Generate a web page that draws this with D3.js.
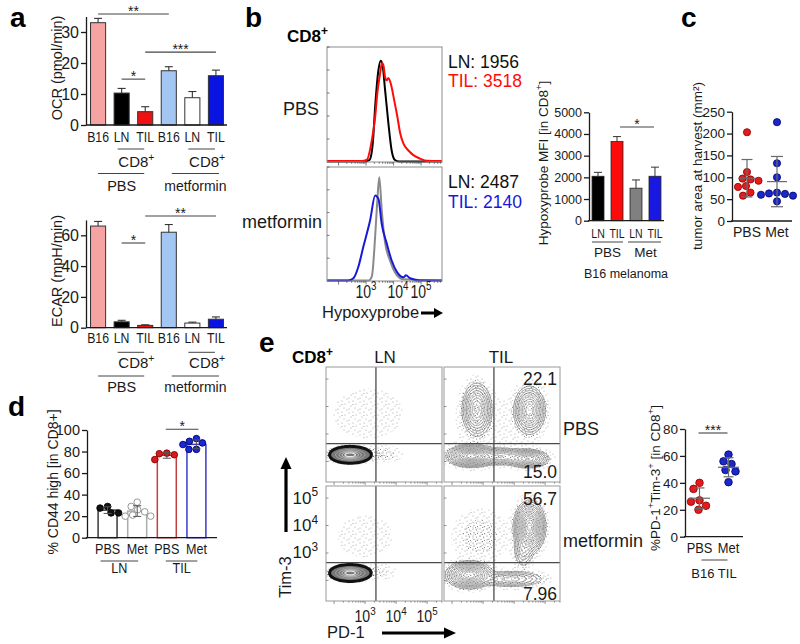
<!DOCTYPE html>
<html><head><meta charset="utf-8">
<script src="https://cdn.jsdelivr.net/npm/d3@7"></script>
<style>body{margin:0;background:#fff}svg{display:block}</style>
</head><body>
<script>
// ================= DATA =================
// panel a
const aCategories = ["B16","LN","TIL","B16","LN","TIL"];
const ocrMean = [33.0, 10.3, 4.3, 17.5, 8.8, 15.9];
const ocrSem  = [1.4, 1.5, 1.6, 1.3, 2.0, 1.8];
const ocrTicks = [0,10,20,30];
const ocrSig = [{a:0,b:3,label:"**",v:35.8},{a:2,b:5,label:"***",v:23.5},{a:1,b:2,label:"*",v:14.8}];
const ecarMean = [66, 3.8, 1.5, 62, 3.0, 5.5];
const ecarSem  = [3.0, 1.0, 0.4, 5.0, 0.6, 1.5];
const ecarTicks = [0,20,40,60];
const ecarSig = [{a:1,b:2,label:"*",v:55},{a:2,b:5,label:"**",v:72.5}];

// panel b histograms: [log10 intensity, % of max]
const histPBS_LN  = [[1.58,0.4],[2.96,0.4],[3.13,2],[3.25,18],[3.33,48],[3.45,80],[3.53,88],[3.60,84],[3.69,63],[3.81,34],[3.93,10],[4.05,1.7],[4.2,0.4],[5.76,0.4]];
const histPBS_TIL = [[1.58,0.8],[2.85,0.8],[3.03,2],[3.21,19],[3.33,39],[3.41,60],[3.51,77],[3.58,86],[3.63,84],[3.69,74],[3.75,71],[3.81,73],[3.90,68],[4.02,54],[4.14,39],[4.24,25],[4.36,16],[4.54,10],[4.72,6],[4.96,3],[5.21,1],[5.76,0.8]];
const histMet_LN  = [[1.58,0.5],[3.1,0.5],[3.21,4],[3.33,39],[3.41,71],[3.48,91],[3.57,62],[3.69,34],[3.87,18],[4.12,5],[4.36,1.5],[5.76,0.5]];
const histMet_TIL = [[1.58,0.5],[2.35,0.5],[2.54,2.4],[2.72,12.5],[2.90,30],[3.15,53.5],[3.33,75],[3.45,72],[3.57,50],[3.75,33],[3.93,18],[4.12,8],[4.36,3.2],[4.45,5],[4.60,2.4],[4.96,0.5],[5.76,0.5]];
const mfiLabels = [["LN: 1956","TIL: 3518"],["LN: 2487","TIL: 2140"]];
const histTicks = [3,4,5];

// panel b bars
const hypoxCategories = ["LN","TIL","LN","TIL"];
const hypoxMean = [2050, 3650, 1500, 2050];
const hypoxSem  = [180, 230, 380, 420];
const hypoxTicks = [0,1000,2000,3000,4000,5000];

// panel c
const tumorGroups = ["PBS","Met"];
const tumorPBS = [203,112,97,95,92,80,78,65,58];
const tumorMet = [226,132,100,65,63,62,60,58,45];
const tumorTicks = [0,50,100,150,200,250];

// panel d
const cd44Groups = ["PBS","Met","PBS","Met"];
const cd44Values = [[27.5,29,23,23],[33,29,26,24,21,20,20],[78.5,78,77,72.5],[92,89.5,88,86.5,82,82]];
const cd44Ticks = [0,20,40,60,80,100];

// panel e flow populations (log10 PD-1, log10 Tim-3, spread, amplitude)
const flowGate = {x:3.35, y:2.65};
const flowLN_PBS  = [{x:2.52,y:2.24,sx:0.27,sy:0.11,a:1},{x:3.55,y:2.25,sx:0.35,sy:0.16,a:0.02},{x:3.1,y:3.75,sx:0.8,sy:0.65,a:0.008}];
const flowLN_Met  = [{x:2.52,y:2.27,sx:0.27,sy:0.11,a:1},{x:3.5,y:2.3,sx:0.3,sy:0.16,a:0.012},{x:3.0,y:3.6,sx:0.75,sy:0.65,a:0.006}];
const flowTIL_PBS = [{x:2.6,y:2.2,sx:0.3,sy:0.16,a:1},{x:3.5,y:2.18,sx:0.45,sy:0.14,a:0.3},{x:4.45,y:2.1,sx:0.28,sy:0.14,a:0.55},{x:2.8,y:3.9,sx:0.2,sy:0.4,a:0.5},{x:4.5,y:3.87,sx:0.21,sy:0.36,a:0.55},{x:3.4,y:3.2,sx:0.9,sy:0.8,a:0.008}];
const flowTIL_Met = [{x:2.55,y:2.2,sx:0.3,sy:0.2,a:0.8},{x:3.9,y:2.05,sx:0.5,sy:0.14,a:0.2},{x:4.5,y:3.95,sx:0.2,sy:0.37,a:1},{x:4.3,y:3.1,sx:0.15,sy:0.3,a:0.15},{x:2.9,y:3.6,sx:0.45,sy:0.5,a:0.03}];
const quadLabels = ["22.1","15.0","56.7","7.96"];
const flowTicks = [3,4,5];

// panel e dot plot
const pdGroups = ["PBS","Met"];
const pdPBS = [40,35.5,27,26,23,20];
const pdMet = [61,56,54,49.5,48.5,40.5];
const pdTicks = [0,20,40,60,80];

// ================= DRAWING =================
const FONT = "'Liberation Sans', Arial, Helvetica, sans-serif";
const INK = "#1a1a1a";
const svg = d3.select("body").append("svg").attr("width",800).attr("height",644).attr("font-family",FONT);
const defs = svg.append("defs");
function pattern(id, size, dots, r, col) {
  const p = defs.append("pattern").attr("id",id).attr("width",size).attr("height",size).attr("patternUnits","userSpaceOnUse");
  dots.forEach(d => p.append("circle").attr("cx",d[0]).attr("cy",d[1]).attr("r",r).attr("fill",col));
}
pattern("speck", 11, [[1,2],[5,1],[8,4],[3,6],[7,8],[10,10],[1,9],[5,4.5]], 0.55, "#9a9a9a");
pattern("speckMid", 7, [[1,1],[4.5,2],[2,4.5],[5.5,5.5],[3.5,6.5]], 0.55, "#7a7a7a");
pattern("speckDark", 6, [[1,1],[4,2],[2,4.5],[5,5]], 0.6, "#222");

function T(x, y, s, o = {}) {
  const size = o.size || 14, sx = o.sx || 1;
  const t = (o.parent || svg).append("text")
    .attr("transform", `translate(${x},${y})` + (o.rotate ? ` rotate(${o.rotate})` : "") + (sx !== 1 ? ` scale(${sx},1)` : ""))
    .attr("font-size", size).attr("text-anchor", o.anchor || "start")
    .attr("fill", o.fill || INK);
  if (o.bold) t.attr("font-weight","bold");
  const parts = s.split(/(\^\{[^}]*\})/).filter(p => p.length);
  const shift = size * 0.42; let raised = false;
  parts.forEach(p => {
    const m = p.match(/^\^\{([^}]*)\}$/);
    const ts = t.append("tspan");
    if (m) { ts.attr("font-size", size*0.7).attr("dy", -shift).text(m[1]); raised = true; }
    else { if (raised) { ts.attr("dy", shift); raised = false; } ts.text(p); }
  });
  return t;
}
function L(x1,y1,x2,y2,o={}) {
  return (o.parent||svg).append("line").attr("x1",x1).attr("y1",y1).attr("x2",x2).attr("y2",y2)
    .attr("stroke",o.stroke||INK).attr("stroke-width",o.sw||1.2);
}
function yAxis(scale, x, ticks, size, sx=1) {
  const ax = svg.append("g").attr("transform",`translate(${x},0)`)
    .call(d3.axisLeft(scale).tickValues(ticks).tickFormat(d3.format("d")).tickSize(5).tickSizeOuter(0).tickPadding(2));
  ax.attr("font-family",FONT);
  ax.selectAll("text").attr("font-size",size).attr("fill",INK).attr("transform",`scale(${sx},1)`);
  ax.select(".domain").attr("stroke",INK).attr("stroke-width",1.3);
  ax.selectAll(".tick line").attr("stroke",INK).attr("stroke-width",1.3);
  return ax;
}
function xLine(scale, y) {
  const r = scale.range();
  L(r[0]-1, y, r[1], y, {sw:1.3});
}
function sigBar(x1,x2,y,label,size=14) {
  L(x1,y,x2,y,{sw:1.1,stroke:"#444"});
  T((x1+x2)/2, y+2, label, {size, anchor:"middle"});
}
function swarm(vals, y, cx, r) {
  const pts = vals.map(v => ({v, y:y(v)})).sort((a,b)=>b.v-a.v);
  const placed = [], minD = 2*r + 0.6;
  pts.forEach(p => {
    let best = 0;
    for (let k=0;k<400;k++){
      const off = k===0 ? 0 : (k%2 ? -1 : 1) * Math.ceil(k/2) * 0.5;
      if (placed.every(q => Math.hypot(q.x-(cx+off), q.y-p.y) >= minD)) { best = off; break; }
    }
    p.x = cx + best; placed.push(p);
  });
  return placed;
}

// ---------- panel labels ----------
[["a",10,27],["b",245,27],["c",681,27],["d",8,416],["e",259,352]].forEach(d =>
  T(d[1], d[2], d[0], {size:28, bold:true, fill:"#000"}));

// ---------- panel a ----------
const aFill = ["#f6a3a3","#000000","#ee1111","#a3c6f3","#ffffff","#0a14e0"];
const xA = d3.scaleBand().domain(d3.range(6)).range([87,227]).paddingInner(0.36).paddingOuter(0.15);
const cA = i => xA(i) + xA.bandwidth()/2;
function panelA(means, sems, yScale, ticks, sig, title, cfg) {
  yAxis(yScale, 86, ticks, 16);
  means.forEach((m,i) => {
    svg.append("rect").attr("x",xA(i)).attr("width",xA.bandwidth())
      .attr("y",yScale(m)).attr("height",yScale(0)-yScale(m))
      .attr("fill",aFill[i]).attr("stroke","#333").attr("stroke-width",1);
    const yt = yScale(m+sems[i]);
    L(cA(i), yScale(m), cA(i), yt, {sw:1.1, stroke:"#333"});
    L(cA(i)-4, yt, cA(i)+4, yt, {sw:1.1, stroke:"#333"});
  });
  xLine(xA, yScale(0));
  aCategories.forEach((c,i) => T(cA(i), cfg.tickY, c, {size:15, anchor:"middle", sx:0.82}));
  sig.forEach(s => sigBar(cA(s.a), cA(s.b), yScale(s.v), s.label));
  [[1,2],[4,5]].forEach(p => {
    L(cA(p[0])-4, cfg.cdLine, cA(p[1])-1, cfg.cdLine, {sw:1, stroke:"#444"});
    T((cA(p[0])+cA(p[1]))/2+3, cfg.cdText, "CD8^{+}", {size:15, anchor:"middle"});
  });
  L(cA(0), cfg.grpLine, cA(2)-1, cfg.grpLine, {sw:1, stroke:"#444"});
  L(cA(3)+3, cfg.grpLine, cA(5)+3, cfg.grpLine, {sw:1, stroke:"#444"});
  T((cA(0)+cA(2))/2, cfg.grpText, "PBS", {size:14.5, anchor:"middle"});
  T((cA(3)+cA(5))/2+3, cfg.grpText, "metformin", {size:14, anchor:"middle"});
  T(cfg.titleX, cfg.titleY, title, {size:14.5, anchor:"middle", rotate:-90});
}
const yOCR = d3.scaleLinear().domain([0,35]).range([125,16.5]);
panelA(ocrMean, ocrSem, yOCR, ocrTicks, ocrSig, "OCR (pmol/min)",
  {tickY:142, cdLine:149, cdText:167, grpLine:173.5, grpText:191, titleX:62, titleY:68});
const yECAR = d3.scaleLinear().domain([0,70]).range([327.7,219.9]);
panelA(ecarMean, ecarSem, yECAR, ecarTicks, ecarSig, "ECAR (mpH/min)",
  {tickY:343, cdLine:352.3, cdText:368, grpLine:376, grpText:392, titleX:62, titleY:271});

// ---------- panel b histograms ----------
const hx = d3.scaleLinear().domain([1.58,5.76]).range([327,442]);
function histBox(top, bottom, curves, colors, labels, rowLabel, rowY) {
  const hy = d3.scaleLinear().domain([0,100]).range([bottom, top]);
  const line = d3.line().x(d=>hx(d[0])).y(d=>hy(d[1])).curve(d3.curveMonotoneX);
  curves.forEach((c,i) => svg.append("path").attr("d",line(c)).attr("fill","none")
    .attr("stroke",colors[i]).attr("stroke-width",2).attr("stroke-linejoin","round"));
  svg.append("rect").attr("x",hx.range()[0]).attr("y",top).attr("width",hx.range()[1]-hx.range()[0])
    .attr("height",bottom-top).attr("fill","none").attr("stroke","#8c8c8c").attr("stroke-width",1);
  [20,40,60,80,100].forEach(v => L(hx.range()[0], hy(v), hx.range()[0]+2.5, hy(v), {sw:0.8, stroke:"#555"}));
  [2,3,4,5].forEach(d => {
    for (let m=1;m<10;m++){
      const lv = d + Math.log10(m);
      if (lv < hx.domain()[0] || lv > hx.domain()[1]) continue;
      L(hx(lv), bottom, hx(lv), bottom + (m===1?3.5:1.8), {sw:0.8, stroke:"#555"});
    }
  });
  T(448, rowY[0], labels[0], {size:17.5, fill:"#111"});
  T(448, rowY[1], labels[1], {size:17.5, fill:colors[1]});
  T(rowLabel.x, rowLabel.y, rowLabel.t, {size:18, anchor:"end"});
}
histBox(47, 162, [histPBS_LN, histPBS_TIL], ["#000000","#ff0a0a"], mfiLabels[0], {x:319,y:115,t:"PBS"}, [68,87]);
histBox(167, 281, [histMet_LN, histMet_TIL], ["#8a8a8a","#1818d8"], mfiLabels[1], {x:322,y:228,t:"metformin"}, [188,208]);
T(287, 42, "CD8^{+}", {size:17, bold:true, fill:"#000"});
const histLabelPos = {3:366, 4:398, 5:421};
histTicks.forEach(t => T(histLabelPos[t], 298, "10^{"+t+"}", {size:18, anchor:"middle", sx:0.78}));
T(322, 318, "Hypoxyprobe", {size:16.5});
L(421, 313, 436, 313, {sw:3, stroke:"#000"});
svg.append("path").attr("d","M434,308 L443,313 L434,318 Z").attr("fill","#000");

// ---------- panel b bars ----------
const yB = d3.scaleLinear().domain([0,5000]).range([220.7,112.3]);
const xB = d3.scaleBand().domain(d3.range(4)).range([589,664]).paddingInner(0.37).paddingOuter(0.16);
const cB = i => xB(i) + xB.bandwidth()/2;
const bFill = ["#000000","#ff0a0a","#808080","#1818e0"];
yAxis(yB, 589, hypoxTicks, 12.5);
hypoxMean.forEach((m,i) => {
  svg.append("rect").attr("x",xB(i)).attr("width",xB.bandwidth()).attr("y",yB(m)).attr("height",yB(0)-yB(m))
    .attr("fill",bFill[i]).attr("stroke","#222").attr("stroke-width",0.8);
  const yt = yB(m+hypoxSem[i]);
  L(cB(i), yB(m), cB(i), yt, {sw:1, stroke:"#333"});
  L(cB(i)-4, yt, cB(i)+4, yt, {sw:1, stroke:"#333"});
});
xLine(xB, yB(0));
hypoxCategories.forEach((c,i) => T(cB(i), 238, c, {size:13.5, anchor:"middle", sx:0.78}));
L(xB(0), 242, xB(1)+xB.bandwidth(), 242, {sw:1, stroke:"#444"});
L(xB(2)-2, 242, xB(3)+xB.bandwidth(), 242, {sw:1, stroke:"#444"});
T((cB(0)+cB(1))/2, 257, "PBS", {size:13.5, anchor:"middle"});
T((cB(2)+cB(3))/2, 257, "Met", {size:13.5, anchor:"middle"});
T(626, 278, "B16 melanoma", {size:12.5, anchor:"middle"});
sigBar(cB(1)+3, cB(3)-1, 127, "*");
T(548, 163, "Hypoxyprobe MFI [in CD8^{+}]", {size:13.5, anchor:"middle", rotate:-90});

// ---------- panel c ----------
const yC = d3.scaleLinear().domain([0,250]).range([221,111.7]);
const xC = d3.scalePoint().domain(tumorGroups).range([732,792]).padding(0.5);
yAxis(yC, 732, tumorTicks, 13.5);
xLine(xC, yC(0));
function dotGroup(vals, cx, yS, fill, stroke, r, halfMean, halfCap) {
  const m = d3.mean(vals), sd = d3.deviation(vals);
  swarm(vals, yS, cx, r).forEach(p => svg.append("circle").attr("cx",p.x).attr("cy",p.y).attr("r",r)
    .attr("fill",fill).attr("stroke",stroke).attr("stroke-width",0.8));
  L(cx, yS(m-sd), cx, yS(m+sd), {sw:1.2, stroke:"#6a6a6a"});
  L(cx-halfMean, yS(m), cx+halfMean, yS(m), {sw:1.2, stroke:"#6a6a6a"});
  L(cx-halfCap, yS(m-sd), cx+halfCap, yS(m-sd), {sw:1.2, stroke:"#6a6a6a"});
  L(cx-halfCap, yS(m+sd), cx+halfCap, yS(m+sd), {sw:1.2, stroke:"#6a6a6a"});
}
dotGroup(tumorPBS, xC("PBS"), yC, "#e41a1c", "#8a0000", 3.6, 8.5, 5.5);
dotGroup(tumorMet, xC("Met"), yC, "#1a28c8", "#000070", 3.6, 10, 6);
tumorGroups.forEach(g => T(xC(g), 237, g, {size:14, anchor:"middle"}));
T(702, 166, "tumor area at harvest (mm²)", {size:13.5, anchor:"middle", rotate:-90});

// ---------- panel d ----------
const yD = d3.scaleLinear().domain([0,100]).range([537.7,430]);
const xD = d3.scaleBand().domain(d3.range(4)).range([87,217]).paddingInner(0.36).paddingOuter(0.375);
const cD = i => xD(i) + xD.bandwidth()/2;
const dStroke = ["#3a3a3a","#ababab","#c04040","#3c3cc4"];
const dPtFill = ["#111111","#ffffff","#d81a1a","#1a2ad0"];
const dPtStroke = ["#000000","#8a8a8a","#8a0000","#00007a"];
yAxis(yD, 87, cd44Ticks, 14.5);
cd44Values.forEach((vals,i) => {
  const m = d3.mean(vals), sd = d3.deviation(vals);
  svg.append("rect").attr("x",xD(i)).attr("width",xD.bandwidth()).attr("y",yD(m)).attr("height",yD(0)-yD(m))
    .attr("fill","#fff").attr("stroke",dStroke[i]).attr("stroke-width",1.5);
  swarm(vals, yD, cD(i), 3.3).forEach(p => svg.append("circle").attr("cx",p.x).attr("cy",p.y).attr("r",3.3)
    .attr("fill",dPtFill[i]).attr("stroke",dPtStroke[i]).attr("stroke-width",0.9));
  L(cD(i), yD(m-sd), cD(i), yD(m+sd), {sw:1, stroke:"#555"});
  L(cD(i)-4, yD(m-sd), cD(i)+4, yD(m-sd), {sw:1, stroke:"#555"});
  L(cD(i)-4, yD(m+sd), cD(i)+4, yD(m+sd), {sw:1, stroke:"#555"});
});
xLine(xD, yD(0));
cd44Groups.forEach((g,i) => T(cD(i), 554, g, {size:15, anchor:"middle", sx:0.84}));
L(cD(0)-7, 561, cD(1)+1, 561, {sw:1, stroke:"#444"});
L(cD(2)-1, 561, cD(3)+1, 561, {sw:1, stroke:"#444"});
T((cD(0)+cD(1))/2-3, 573, "LN", {size:14, anchor:"middle", sx:0.9});
T((cD(2)+cD(3))/2, 573, "TIL", {size:14, anchor:"middle", sx:0.9});
sigBar(cD(2)-1, cD(3)+2, 429.3, "*");
T(58, 482, "% CD44 high [in CD8+]", {size:14, anchor:"middle", rotate:-90});

// ---------- panel e flow ----------
const flowX = d3.scaleLinear().domain([1.74,5.48]).range([0,116]);
const flowY = d3.scaleLinear().domain([1.25,5.44]).range([115,0]);
const FW = 116, FH = 115;
const lnLayers = [{t:0.003,fill:"url(#speck)"},{t:0.01,fill:"url(#speckMid)"},{t:0.02,fill:"url(#speckDark)"},
  {t:0.075,fill:"#787878",stroke:"#111",sw:6},
  {t:0.22,stroke:"#a8a8a8",sw:1},{t:0.42,stroke:"#bcbcbc",sw:1},{t:0.62,stroke:"#d2d2d2",sw:1},{t:0.82,stroke:"#e8e8e8",sw:1.2}];
const tilLayers = [{t:0.0035,fill:"url(#speck)"},{t:0.014,fill:"url(#speckMid)"}].concat(
  [0.03,0.05,0.08,0.12,0.17,0.23,0.3,0.38,0.47,0.57,0.68,0.8,0.92].map((t,k)=>({t, stroke: k<4 ? "#7a7a7a" : "#959595", sw:0.8})));
function drawFlow(x0, y0, pops, layers, id) {
  const g = svg.append("g").attr("transform",`translate(${x0},${y0})`);
  defs.append("clipPath").attr("id",id).append("rect").attr("width",FW).attr("height",FH);
  const gc = g.append("g").attr("clip-path",`url(#${id})`);
  const vals = new Float64Array(FW*FH);
  for (let j=0;j<FH;j++){ const ly = flowY.invert(j+0.5);
    for (let i=0;i<FW;i++){ const lx = flowX.invert(i+0.5); let s = 0;
      for (const p of pops){ const dx=(lx-p.x)/p.sx, dy=(ly-p.y)/p.sy; s += p.a*Math.exp(-0.5*(dx*dx+dy*dy)); }
      vals[j*FW+i] = s; } }
  const path = d3.geoPath();
  layers.forEach(Ly => {
    const c = d3.contours().size([FW,FH]).thresholds([Ly.t])(vals)[0];
    gc.append("path").attr("d",path(c)).attr("fill",Ly.fill||"none")
      .attr("stroke",Ly.stroke||"none").attr("stroke-width",Ly.sw||0.8).attr("paint-order","stroke");
  });
  L(flowX(flowGate.x), 0, flowX(flowGate.x), FH, {parent:g, sw:1.3, stroke:"#4a4a4a"});
  L(0, flowY(flowGate.y), FW, flowY(flowGate.y), {parent:g, sw:1.3, stroke:"#4a4a4a"});
  g.append("rect").attr("width",FW).attr("height",FH).attr("fill","none").attr("stroke","#999").attr("stroke-width",1);
  [2,3,4,5].forEach(d => { for (let m=1;m<10;m++){ const lv=d+Math.log10(m);
    if (lv>flowX.domain()[0] && lv<flowX.domain()[1]) L(flowX(lv), FH, flowX(lv), FH+(m===1?3:1.6), {parent:g, sw:0.7, stroke:"#666"});
    if (lv>flowY.domain()[0] && lv<flowY.domain()[1] && m===1) L(0, flowY(lv), 2.5, flowY(lv), {parent:g, sw:0.7, stroke:"#666"}); } });
}
drawFlow(326, 367, flowLN_PBS, lnLayers, "f1");
drawFlow(444, 367, flowTIL_PBS, tilLayers, "f2");
drawFlow(326, 486, flowLN_Met, lnLayers, "f3");
drawFlow(444, 486, flowTIL_Met, tilLayers, "f4");
T(292, 363, "CD8^{+}", {size:17, bold:true, fill:"#000"});
T(385, 363, "LN", {size:17, anchor:"middle"});
T(501, 363, "TIL", {size:17, anchor:"middle"});
[[385,quadLabels[0]],[478,quadLabels[1]],[505,quadLabels[2]],[600,quadLabels[3]]].forEach(d =>
  T(557, d[0], d[1], {size:17.5, anchor:"end"}));
T(563, 435, "PBS", {size:18});
T(563, 547, "metformin", {size:18});
flowTicks.forEach(t => T(318, 486 + flowY(t) + 5.5, "10^{"+t+"}", {size:17, anchor:"end"}));
flowTicks.forEach(t => T(326 + flowX(t), 621.5, "10^{"+t+"}", {size:16, anchor:"middle", sx:0.88}));
T(327, 638, "PD-1", {size:16.5});
L(382, 633, 446, 633, {sw:3.2, stroke:"#000"});
svg.append("path").attr("d","M444,627.5 L456,633 L444,638.5 Z").attr("fill","#000");
T(291, 577, "Tim-3", {size:16.5, anchor:"middle", rotate:-90});
L(286, 532, 286, 467, {sw:3.2, stroke:"#000"});
svg.append("path").attr("d","M280.5,469 L286,457 L291.5,469 Z").attr("fill","#000");

// ---------- panel e dot plot ----------
const yE = d3.scaleLinear().domain([0,80]).range([536.7,429]);
const xE = d3.scalePoint().domain(pdGroups).range([685,743]).padding(0.5);
yAxis(yE, 685, pdTicks, 13.5);
xLine(xE, yE(0));
dotGroup(pdPBS, xE("PBS"), yE, "#e41a1c", "#8a0000", 3.8, 10.5, 5);
dotGroup(pdMet, xE("Met"), yE, "#1a28c8", "#000070", 3.8, 10.5, 5);
pdGroups.forEach(g => T(xE(g), 553, g, {size:14, anchor:"middle", sx:0.92}));
L(xE("PBS")+2, 560, xE("Met")-1, 560, {sw:1, stroke:"#444"});
T(714, 578, "B16 TIL", {size:13, anchor:"middle"});
sigBar(xE("PBS")-1, xE("Met")-1, 433, "***");
T(660, 478, "%PD-1^{+}Tim-3^{+} [in CD8^{+}]", {size:13.5, anchor:"middle", rotate:-90});
</script>
</body></html>
